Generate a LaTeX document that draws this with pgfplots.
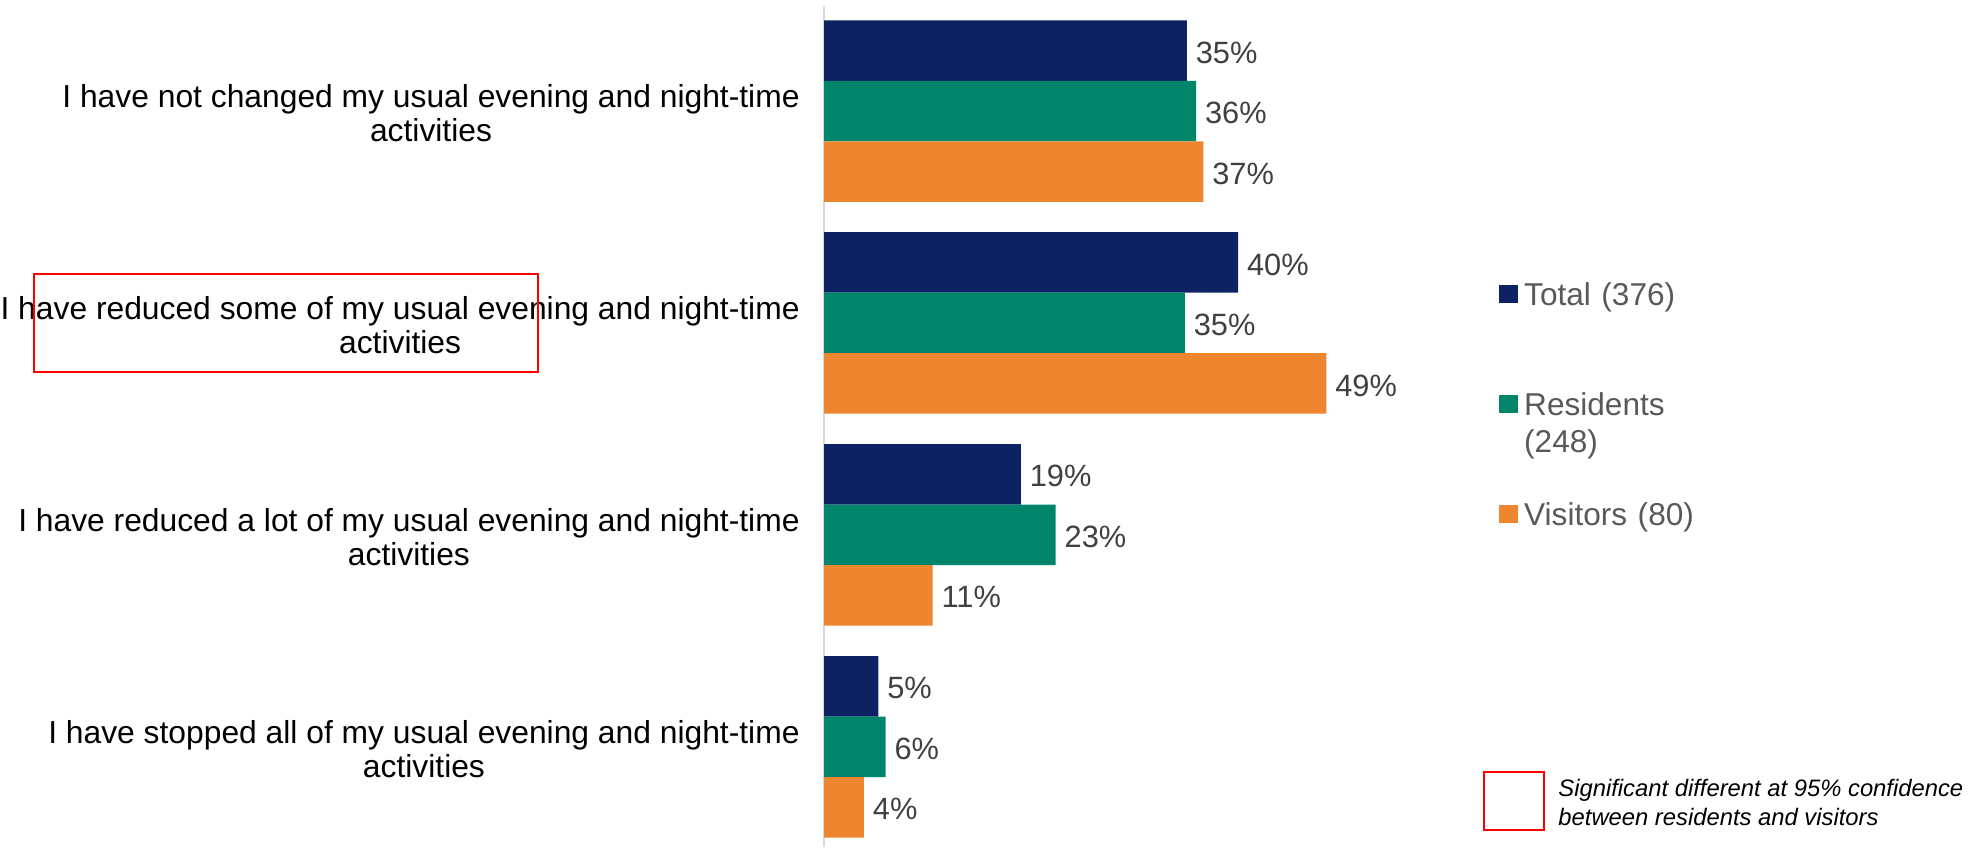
\documentclass[border=0pt]{standalone}
\usepackage{pgfplots}
\pgfplotsset{compat=1.18}
\usepackage{fontspec}
\setmainfont{Liberation Sans}
\definecolor{cnavy}{HTML}{0C2262}
\definecolor{cgreen}{HTML}{00856A}
\definecolor{corange}{HTML}{EE8630}
\definecolor{lblgray}{HTML}{404040}
\definecolor{leggray}{HTML}{595959}
\definecolor{axgray}{HTML}{D9D9D9}
\definecolor{cred}{HTML}{FF0000}
\begin{document}
\begin{tikzpicture}
\useasboundingbox (0,0) rectangle (985pt,423.5pt);
\begin{axis}[
  at={(412pt,0pt)}, anchor=south west,
  scale only axis, width=307.5pt, height=420.7pt,
  xbar, bar width=30.25pt,
  xmin=0, xmax=60, ymin=-0.4976, ymax=3.473,
  y dir=reverse,
  axis x line=none, axis y line*=left,
  y axis line style={axgray, line width=1pt},
  xtick=\empty,
  ytick={0,1,2,3},
  yticklabels={{I have not changed my usual evening and night-time\\activities},
               {I have reduced some of my usual evening and night-time\\activities},
               {I have reduced a lot of my usual evening and night-time\\activities},
               {I have stopped all of my usual evening and night-time\\activities}},
  yticklabel style={font=\fontsize{15.9}{17}\selectfont, align=center, anchor=east, inner sep=0pt, xshift=-12pt, yshift=-1.25pt, text=black},
  major tick length=0pt, ytick style={draw=none},
  clip=false,
  /pgf/number format/assume math mode=true,
  nodes near coords={\pgfmathprintnumber[fixed,precision=0]{\pgfplotspointmeta}\%},
  every node near coord/.append style={font=\fontsize{15.4}{18}\selectfont, text=lblgray, inner sep=0pt, xshift=4.3pt, yshift=-1pt, anchor=west},
  legend image code/.code={\fill[#1] (0pt,0.8pt) rectangle (9.4pt,10.2pt);},
  legend style={draw=none, fill=none, at={(axis description cs:1.09756,0.67269)}, anchor=north west,
    inner sep=0pt, outer sep=0pt, row sep=23pt, column sep=3.2pt,
    cells={anchor=base west},
    nodes={anchor=base west, inner sep=0pt, text width=100pt, align=left, text height=12pt, text depth=20pt,
      font=\fontsize{15.8}{18.75}\selectfont, text=leggray}},
]
\addplot[fill=cnavy, draw=none, bar shift=30.25pt] coordinates {(35.4,0) (40.4,1) (19.2,2) (5.3,3)};
\addplot[fill=cgreen, draw=none, bar shift=0pt] coordinates {(36.3,0) (35.2,1) (22.6,2) (6.0,3)};
\addplot[fill=corange, draw=none, bar shift=-30.25pt] coordinates {(37.0,0) (49.0,1) (10.6,2) (3.9,3)};
\legend{Total (376), Residents (248), Visitors (80)}
\end{axis}
\draw[cred, line width=1pt] (17pt,237.5pt) rectangle (269pt,286.5pt);
\draw[cred, line width=1pt] (742pt,8.5pt) rectangle (772pt,37.5pt);
\node[anchor=base west, align=left, inner sep=0pt, font=\fontsize{11.9}{14.85}\selectfont\itshape] at (779pt,10.65pt) {Significant different at 95\% confidence\\between residents and visitors};
\end{tikzpicture}
\end{document}
